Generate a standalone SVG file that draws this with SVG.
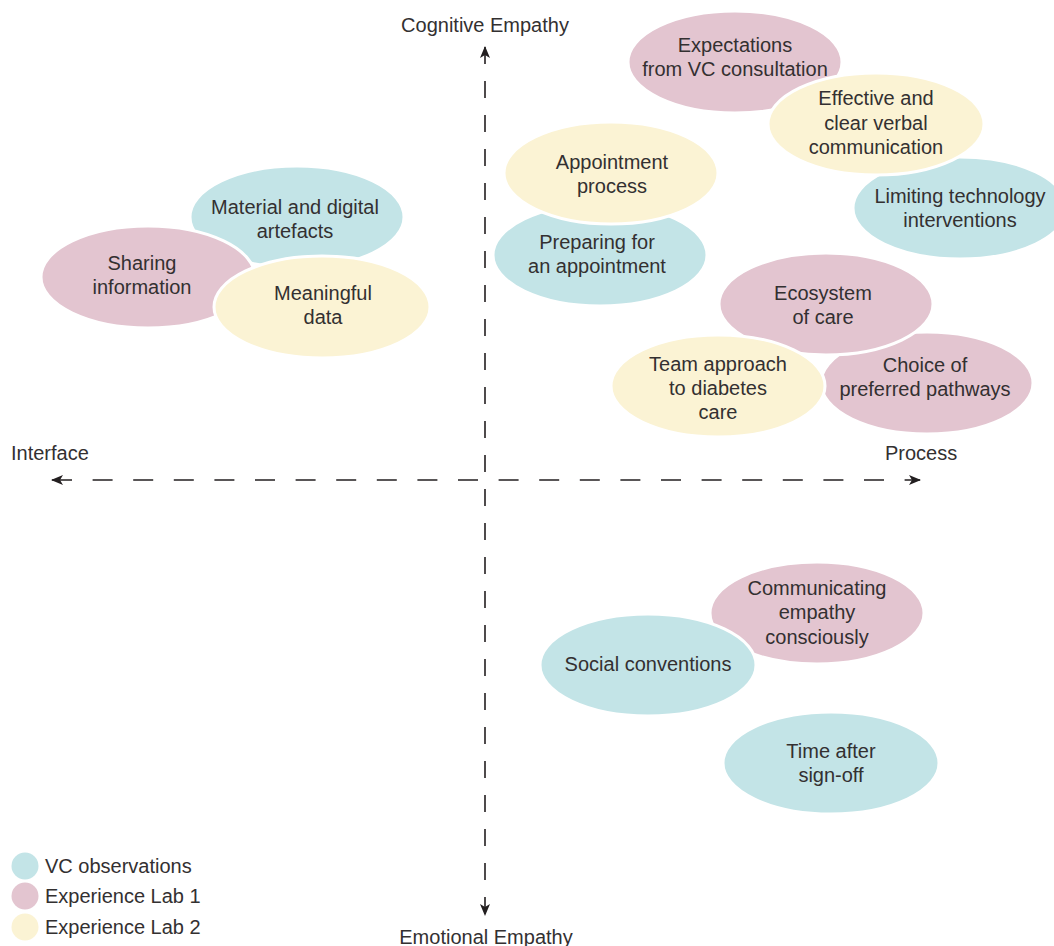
<svg xmlns="http://www.w3.org/2000/svg" width="1054" height="946" viewBox="0 0 1054 946">
<defs>
<style>
.t{font-family:"Liberation Sans",Arial,sans-serif;font-size:20px;fill:#333031;text-anchor:middle}
.l{font-family:"Liberation Sans",Arial,sans-serif;font-size:20px;fill:#333031}
.b{fill:#c3e4e7;stroke:#fff;stroke-width:3}
.p{fill:#e3c5d0;stroke:#fff;stroke-width:3}
.y{fill:#fbf3d4;stroke:#fff;stroke-width:3}
.ax{stroke:#231f20;stroke-width:1.6;fill:none}
</style>
<marker id="ah" viewBox="0 0 12 10" refX="11" refY="5" markerWidth="12" markerHeight="10" markerUnits="userSpaceOnUse" orient="auto-start-reverse">
<path d="M0,0 L12,5 L0,10 L3,5 z" fill="#231f20"/>
</marker>
</defs>
<rect width="1054" height="946" fill="#fff"/>
<g id="connectors">
<line class="ax" x1="485" y1="47" x2="485" y2="915" stroke-dasharray="17 17" marker-start="url(#ah)" marker-end="url(#ah)"/>
<line class="ax" x1="52" y1="480" x2="920" y2="480" stroke-dasharray="20 20.6" marker-start="url(#ah)" marker-end="url(#ah)"/>
</g>
<g id="axis-labels">
<text class="t" x="485" y="32">Cognitive Empathy</text>
<text class="t" x="486" y="944">Emotional Empathy</text>
<text class="l" x="11" y="460">Interface</text>
<text class="l" x="885" y="460">Process</text>
</g>
<g id="n-expectations"><ellipse class="p" cx="735" cy="62" rx="107" ry="51"/><text class="t" x="735" y="52">Expectations</text><text class="t" x="735" y="76">from VC consultation</text></g>
<g id="n-limiting"><ellipse class="b" cx="960" cy="208" rx="107" ry="51"/><text class="t" x="960" y="203">Limiting technology</text><text class="t" x="960" y="227">interventions</text></g>
<g id="n-effective"><ellipse class="y" cx="876" cy="124" rx="108" ry="51"/><text class="t" x="876" y="105">Effective and</text><text class="t" x="876" y="130">clear verbal</text><text class="t" x="876" y="154">communication</text></g>
<g id="n-preparing"><ellipse class="b" cx="600" cy="255" rx="107" ry="51"/><text class="t" x="597" y="249">Preparing for</text><text class="t" x="597" y="273">an appointment</text></g>
<g id="n-appointment"><ellipse class="y" cx="611" cy="173" rx="107" ry="51"/><text class="t" x="612" y="169">Appointment</text><text class="t" x="612" y="193">process</text></g>
<g id="n-material"><ellipse class="b" cx="297" cy="217" rx="107" ry="51"/><text class="t" x="295" y="214">Material and digital</text><text class="t" x="295" y="238">artefacts</text></g>
<g id="n-sharing"><ellipse class="p" cx="148" cy="277" rx="107" ry="51"/><text class="t" x="142" y="270">Sharing</text><text class="t" x="142" y="294">information</text></g>
<g id="n-meaningful"><ellipse class="y" cx="322" cy="307" rx="108" ry="51"/><text class="t" x="323" y="300">Meaningful</text><text class="t" x="323" y="324">data</text></g>
<g id="n-choice"><ellipse class="p" cx="927" cy="383" rx="106" ry="51"/><text class="t" x="925" y="372">Choice of</text><text class="t" x="925" y="396">preferred pathways</text></g>
<g id="n-ecosystem"><ellipse class="p" cx="826" cy="304" rx="107" ry="51"/><text class="t" x="823" y="300">Ecosystem</text><text class="t" x="823" y="324">of care</text></g>
<g id="n-team"><ellipse class="y" cx="718" cy="386" rx="107" ry="51"/><text class="t" x="718" y="371">Team approach</text><text class="t" x="718" y="395">to diabetes</text><text class="t" x="718" y="419">care</text></g>
<g id="n-communicating"><ellipse class="p" cx="817" cy="613" rx="107" ry="51"/><text class="t" x="817" y="595">Communicating</text><text class="t" x="817" y="619">empathy</text><text class="t" x="817" y="644">consciously</text></g>
<g id="n-social"><ellipse class="b" cx="648" cy="665" rx="108" ry="51"/><text class="t" x="648" y="671">Social conventions</text></g>
<g id="n-time"><ellipse class="b" cx="831" cy="763" rx="108" ry="51"/><text class="t" x="831" y="758">Time after</text><text class="t" x="831" y="782">sign-off</text></g>
<g id="legend">
<circle cx="25" cy="866" r="13.5" fill="#c3e4e7"/><text class="l" x="45" y="873">VC observations</text>
<circle cx="25" cy="896" r="13.5" fill="#e3c5d0"/><text class="l" x="45" y="903">Experience Lab 1</text>
<circle cx="25" cy="927" r="13.5" fill="#fbf3d4"/><text class="l" x="45" y="934">Experience Lab 2</text>
</g>
</svg>
